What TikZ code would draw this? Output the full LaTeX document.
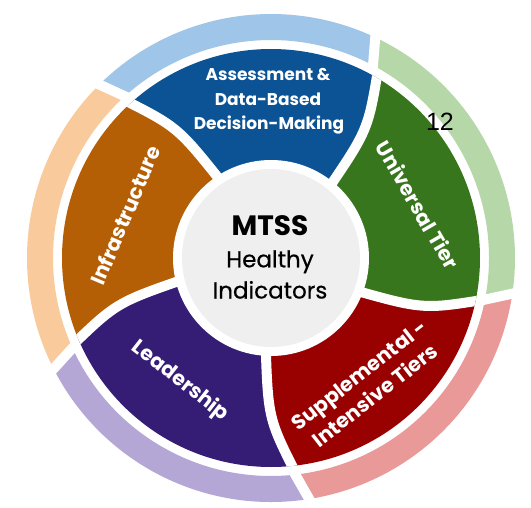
\documentclass[tikz,border=0pt]{standalone}
\usepackage{fontspec}
\setmainfont{Poppins}
\newfontfamily\medfont{Poppins}[FakeBold=0.5]
\newfontfamily\numfont{Liberation Sans}
\definecolor{dblue}{HTML}{0B5394}
\definecolor{dgreen}{HTML}{38761D}
\definecolor{dred}{HTML}{990000}
\definecolor{dpurple}{HTML}{351C75}
\definecolor{dorange}{HTML}{B45F06}
\definecolor{lblue}{HTML}{9FC5E8}
\definecolor{lgreen}{HTML}{B6D7A8}
\definecolor{lred}{HTML}{EA9999}
\definecolor{lpurple}{HTML}{B4A7D6}
\definecolor{lorange}{HTML}{F9CB9C}
\definecolor{cgrey}{HTML}{EFEFEF}
% outer ring piece: #1 colour, #2 start inner, #3 start outer, #4 end inner, #5 end outer, #6 r in, #7 r out
\newcommand{\mysector}[7]{%
  \fill[#1] (#2:#6) -- (#3:#7) arc[start angle=#3, end angle=#5, radius=#7]
    -- (#4:#6) arc[start angle=#4, end angle=#2, radius=#6] -- cycle;}
% dark wedge bounded by two curved separators: #1 colour, #2 first base angle, #3 second base angle
\newcommand{\mywedge}[3]{%
  \fill[#1] (0,0) -- (#2:105) .. controls ({#2+1.6}:160.8) .. ({#2+9.6}:221)
    -- ({#2+9.6}:280) -- ({#3+9.6}:280) -- ({#3+9.6}:221)
    .. controls ({#3+1.6}:160.8) .. (#3:105) -- cycle;}
\begin{document}
\begin{tikzpicture}[x=1pt,y=1pt,
  gapline/.style={white, line width=10pt, shorten <=-7pt, shorten >=-7pt},
  sepline/.style={white, line width=10pt, shorten <=-20pt},
  lbl/.style={text=white, font=\bfseries\fontsize{17}{24.3}\selectfont, inner sep=0pt, align=center},
  rlbl/.style={text=white, font=\bfseries\fontsize{20.5}{26}\selectfont, inner sep=0pt, align=center},
  ctitle/.style={text=black, font=\bfseries\fontsize{28}{30}\selectfont, inner sep=0pt},
  csub/.style={text=black, font=\medfont\fontsize{23}{26}\selectfont, inner sep=0pt},
  pagenum/.style={text=black, font=\numfont\fontsize{25}{27}\selectfont, inner sep=0pt}]
\useasboundingbox[fill=white] (-271,-249) rectangle (260,258);
% outer light ring
\mysector{lblue}{62.1}{64.7}{132.1}{134.7}{218}{244}
\mysector{lorange}{132.1}{134.7}{204.4}{207.0}{218}{244}
\mysector{lpurple}{204.4}{207.0}{276.4}{279.0}{218}{244}
\mysector{lred}{276.4}{279.0}{349.0}{351.6}{218}{244}
\mysector{lgreen}{349.0}{351.6}{422.1}{424.7}{218}{244}
\foreach \a in {63.4,133.4,205.7,277.7,350.3}{
  \draw[gapline] ({\a-1.3}:218) -- ({\a+1.3}:244);
}
% dark segments with curved separators
\begin{scope}
  \clip (0,0) circle[radius=209];
  \mywedge{dblue}{51.2}{123.8}
  \mywedge{dorange}{123.8}{194.5}
  \mywedge{dpurple}{194.5}{267.4}
  \mywedge{dred}{267.4}{339.7}
  \mywedge{dgreen}{339.7}{411.2}
  \foreach \p in {51.2,123.8,194.5,267.4,339.7}{
    \draw[sepline] (\p:105) .. controls ({\p+1.6}:160.8) .. ({\p+9.6}:221);
  }
\end{scope}
% centre
\fill[white] (0,0) circle[radius=98];
\fill[cgrey] (0,0) circle[radius=89];
\node[ctitle, anchor=base] (mtss) at (-1,23) {MTSS};
\node[csub, anchor=base] (healthy) at (-1,-9.3) {Healthy};
\node[csub, anchor=base] (indic) at (-1,-40.5) {Indicators};
% labels
\node[lbl, anchor=base] (asm1) at (-3,177.5) {Assessment \&};
\node[lbl, anchor=base] (asm2) at (-3,153) {Data-Based};
\node[lbl, anchor=base] (asm3) at (-2,128.7) {Decision-Making};
\node[rlbl, rotate=67] (infra) at (-146,43) {Infrastructure};
\node[rlbl, rotate=-60] (univ) at (147,53) {Universal Tier};
\node[rlbl, rotate=-38] (lead) at (-91,-123) {Leadership};
\node[rlbl, rotate=38] (supp) at (96,-127) {Supplemental -\\Intensive Tiers};
\node[pagenum] (num) at (169,136) {12};
\end{tikzpicture}
\end{document}
